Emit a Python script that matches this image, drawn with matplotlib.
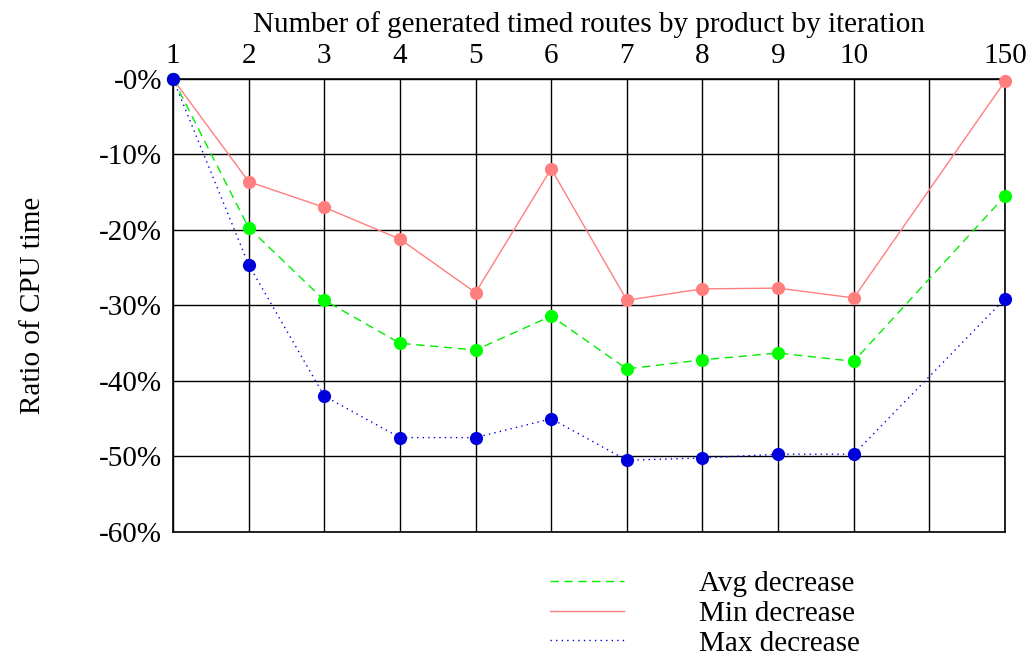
import numpy as np
import matplotlib
matplotlib.use("Agg")
import matplotlib.pyplot as plt

plt.rcParams['font.family'] = ['Liberation Serif', 'DejaVu Serif']

# routes per product per iteration
x_labels = ['1', '2', '3', '4', '5', '6', '7', '8', '9', '10', '150']
x_pos = [0, 1, 2, 3, 4, 5, 6, 7, 8, 9, 11]

avg_dec = [0, -19.7, -29.3, -35.0, -35.9, -31.4, -38.4, -37.2, -36.3, -37.4, -15.5]
min_dec = [0, -13.6, -17.0, -21.2, -28.3, -11.9, -29.3, -27.8, -27.7, -29.0, -0.3]
max_dec = [0, -24.6, -42.0, -47.5, -47.5, -45.0, -50.5, -50.2, -49.7, -49.7, -29.1]

y_ticks = [0, -10, -20, -30, -40, -50, -60]

fs = 21
fig = plt.figure(figsize=(10.31, 6.61), dpi=100)
ax = fig.add_axes([0.1678, 0.1952, 0.807, 0.6853])

c_avg = '#00ee00'
c_min = '#ff7f7f'
c_max = '#0000ee'

l_avg, = ax.plot(x_pos, avg_dec, color=c_avg, lw=1, ls=(0, (6, 4)), zorder=3)
l_min, = ax.plot(x_pos, min_dec, color=c_min, lw=1, ls='-', zorder=3)
l_max, = ax.plot(x_pos, max_dec, color=c_max, lw=1, ls=(0, (1, 3)), zorder=3)
ax.plot(x_pos, min_dec, 'o', color=c_min, ms=9.5, mec='none', zorder=4, clip_on=False)
ax.plot(x_pos, avg_dec, 'o', color='#00ff00', ms=9.5, mec='none', zorder=4, clip_on=False)
ax.plot(x_pos, max_dec, 'o', color='#0000dd', ms=9.5, mec='none', zorder=4, clip_on=False)

ax.set_xlim(0, 11)
ax.set_ylim(-60, 0)
ax.set_xticks(range(12))
ax.set_xticklabels(x_labels[:10] + ['', '150'])
ax.xaxis.tick_top()
ax.xaxis.set_label_position('top')
ax.set_xlabel('Number of generated timed routes by product by iteration', fontsize=fs, labelpad=8)
ax.set_yticks(y_ticks)
ax.set_yticklabels(['-%d%%' % abs(v) for v in y_ticks])
ax.set_ylabel('Ratio of CPU time', fontsize=fs, labelpad=38)
ax.tick_params(length=0, labelsize=fs, pad=7)
ax.tick_params(axis='y', pad=8)
ax.grid(True, color='black', lw=1)
for s in ax.spines.values():
    s.set_linewidth(1.2)

leg = ax.legend([l_avg, l_min, l_max], ['Avg decrease', 'Min decrease', 'Max decrease'],
                loc='upper left', bbox_to_anchor=(0.421, -0.027), frameon=False,
                fontsize=fs, handlelength=2.57, handletextpad=2.57, labelspacing=0.12)

fig.savefig('out.png', dpi=100)
